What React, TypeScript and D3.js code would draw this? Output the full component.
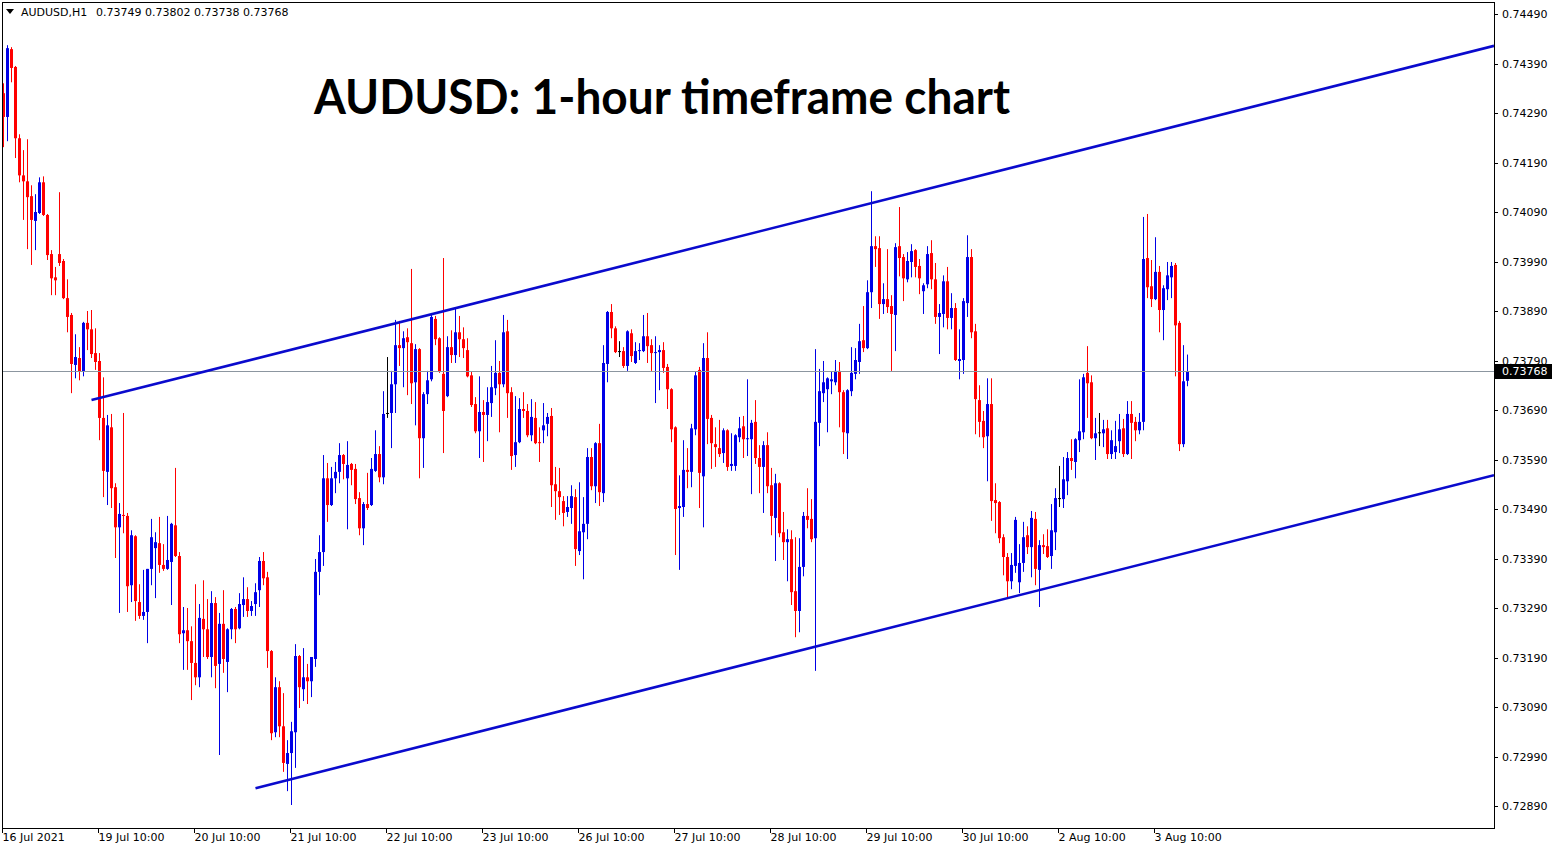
import React from 'react';
import * as d3 from 'd3';

const W = 1558;
const H = 850;

const opens = [0.74330,0.74282,0.74419,0.74383,0.74239,0.74164,0.74152,0.74122,0.74072,0.74088,
0.74150,0.74084,0.74005,0.73958,0.74005,0.73991,0.73916,0.73882,0.73781,0.73795,
0.73767,0.73866,0.73853,0.73805,0.73789,0.73674,0.73565,0.73655,0.73534,0.73453,
0.73478,0.73476,0.73336,0.73435,0.73302,0.73274,0.73282,0.73369,0.73411,0.73421,
0.73377,0.73369,0.73383,0.73457,0.73395,0.73239,0.73245,0.73223,0.73179,0.73150,
0.73268,0.73247,0.73191,0.73300,0.73177,0.73258,0.73181,0.73247,0.73288,0.73249,
0.73296,0.73308,0.73284,0.73298,0.73326,0.73385,0.73352,0.73203,0.73039,0.73130,
0.73051,0.72975,0.72997,0.73039,0.73193,0.73126,0.73150,0.73142,0.73187,0.73363,
0.73403,0.73552,0.73498,0.73552,0.73565,0.73599,0.73552,0.73581,0.73571,0.73512,
0.73451,0.73500,0.73498,0.73567,0.73601,0.73554,0.73684,0.73684,0.73742,0.73821,
0.73815,0.73837,0.73825,0.73746,0.73813,0.73633,0.73722,0.73752,0.73874,0.73835,
0.73763,0.73718,0.73817,0.73801,0.73847,0.73833,0.73811,0.73760,0.73702,0.73647,
0.73686,0.73680,0.73704,0.73734,0.73765,0.73742,0.73849,0.73726,0.73599,0.73625,
0.73692,0.73688,0.73639,0.73674,0.73625,0.73649,0.73662,0.73678,0.73540,0.73526,
0.73506,0.73484,0.73492,0.73514,0.73405,0.73443,0.73460,0.73595,0.73536,0.73623,
0.73522,0.73783,0.73888,0.73855,0.73809,0.73809,0.73779,0.73845,0.73785,0.73809,
0.73809,0.73839,0.73821,0.73805,0.73807,0.73811,0.73777,0.73732,0.73655,0.73492,
0.73494,0.73569,0.73565,0.73651,0.73771,0.73556,0.73795,0.73674,0.73621,0.73613,
0.73603,0.73649,0.73577,0.73577,0.73635,0.73657,0.73631,0.73631,0.73666,0.73593,
0.73575,0.73619,0.73538,0.73472,0.73542,0.73443,0.73423,0.73429,0.73324,0.73284,
0.73373,0.73476,0.73470,0.73431,0.73664,0.73724,0.73732,0.73748,0.73746,0.73769,
0.73726,0.73643,0.73728,0.73763,0.73787,0.73831,0.73815,0.73928,0.74021,0.74017,
0.73904,0.73914,0.73900,0.73882,0.74021,0.73999,0.73954,0.73989,0.74013,0.73981,
0.73930,0.73944,0.74007,0.73954,0.73878,0.73884,0.73950,0.73876,0.73896,0.73789,
0.73791,0.73906,0.73999,0.73849,0.73710,0.73668,0.73637,0.73702,0.73508,0.73504,
0.73433,0.73393,0.73344,0.73375,0.73342,0.73381,0.73437,0.73413,0.73470,0.73367,
0.73417,0.73415,0.73395,0.73443,0.73512,0.73510,0.73546,0.73593,0.73585,0.73629,
0.73645,0.73765,0.73746,0.73633,0.73645,0.73643,0.73653,0.73601,0.73605,0.73627,
0.73653,0.73601,0.73682,0.73666,0.73649,0.73666,0.73997,0.73940,0.73914,0.73969,
0.73892,0.73934,0.73958,0.73983,0.73866,0.73621,0.73749];

const highs = [0.74350,0.74427,0.74423,0.74385,0.74247,0.74215,0.74237,0.74144,0.74126,0.74160,
0.74162,0.74086,0.74013,0.73979,0.74130,0.73995,0.73954,0.73886,0.73843,0.73817,
0.73868,0.73890,0.73892,0.73855,0.73805,0.73756,0.73680,0.73682,0.73542,0.73502,
0.73684,0.73482,0.73447,0.73437,0.73338,0.73367,0.73369,0.73470,0.73443,0.73474,
0.73419,0.73476,0.73462,0.73573,0.73403,0.73292,0.73290,0.73253,0.73338,0.73298,
0.73346,0.73308,0.73324,0.73312,0.73280,0.73326,0.73249,0.73290,0.73292,0.73320,
0.73352,0.73332,0.73304,0.73340,0.73393,0.73403,0.73363,0.73205,0.73150,0.73142,
0.73118,0.73023,0.73060,0.73217,0.73195,0.73209,0.73177,0.73191,0.73389,0.73437,
0.73599,0.73583,0.73575,0.73585,0.73623,0.73601,0.73627,0.73583,0.73581,0.73524,
0.73504,0.73563,0.73593,0.73649,0.73617,0.73728,0.73797,0.73769,0.73872,0.73870,
0.73849,0.73855,0.73975,0.73823,0.73815,0.73726,0.73769,0.73886,0.73880,0.73837,
0.73997,0.73839,0.73851,0.73894,0.73880,0.73857,0.73835,0.73767,0.73716,0.73758,
0.73710,0.73736,0.73779,0.73831,0.73789,0.73882,0.73872,0.73736,0.73718,0.73714,
0.73726,0.73702,0.73712,0.73706,0.73655,0.73704,0.73684,0.73694,0.73575,0.73573,
0.73516,0.73516,0.73538,0.73530,0.73544,0.73514,0.73613,0.73613,0.73625,0.73662,
0.73821,0.73890,0.73904,0.73859,0.73829,0.73817,0.73851,0.73853,0.73827,0.73825,
0.73882,0.73886,0.73833,0.73839,0.73821,0.73827,0.73783,0.73734,0.73657,0.73558,
0.73629,0.73613,0.73662,0.73767,0.73777,0.73825,0.73847,0.73680,0.73655,0.73670,
0.73653,0.73651,0.73643,0.73641,0.73676,0.73678,0.73752,0.73670,0.73710,0.73619,
0.73627,0.73645,0.73573,0.73561,0.73544,0.73484,0.73449,0.73447,0.73433,0.73431,
0.73484,0.73532,0.73510,0.73813,0.73773,0.73789,0.73756,0.73767,0.73791,0.73787,
0.73730,0.73732,0.73817,0.73815,0.73864,0.73900,0.73952,0.74132,0.74041,0.74041,
0.73946,0.74015,0.73922,0.74027,0.74100,0.74005,0.74009,0.74025,0.74015,0.73995,
0.73946,0.74021,0.74033,0.73987,0.73904,0.73962,0.73979,0.73926,0.73906,0.73853,
0.73916,0.74043,0.74015,0.73864,0.73740,0.73688,0.73754,0.73754,0.73542,0.73506,
0.73439,0.73401,0.73401,0.73474,0.73419,0.73464,0.73455,0.73486,0.73484,0.73427,
0.73439,0.73449,0.73500,0.73532,0.73577,0.73595,0.73605,0.73631,0.73633,0.73752,
0.73763,0.73819,0.73760,0.73674,0.73684,0.73670,0.73670,0.73649,0.73668,0.73682,
0.73672,0.73708,0.73708,0.73676,0.73684,0.74080,0.74086,0.73993,0.74039,0.73981,
0.73942,0.73989,0.73989,0.73987,0.73870,0.73821,0.73802];

const lows = [0.74221,0.74233,0.74352,0.74199,0.74150,0.74074,0.74015,0.73983,0.74013,0.74086,
0.74082,0.73993,0.73922,0.73922,0.73981,0.73914,0.73847,0.73724,0.73754,0.73750,
0.73758,0.73811,0.73795,0.73771,0.73629,0.73514,0.73498,0.73492,0.73391,0.73280,
0.73441,0.73282,0.73302,0.73264,0.73268,0.73266,0.73219,0.73336,0.73310,0.73361,
0.73365,0.73367,0.73296,0.73393,0.73219,0.73165,0.73165,0.73104,0.73134,0.73130,
0.73191,0.73187,0.73150,0.73128,0.72993,0.73159,0.73120,0.73227,0.73219,0.73247,
0.73272,0.73272,0.73274,0.73274,0.73292,0.73336,0.73169,0.73023,0.73029,0.73029,
0.72959,0.72920,0.72892,0.72967,0.73088,0.73102,0.73096,0.73110,0.73171,0.73316,
0.73375,0.73464,0.73496,0.73522,0.73542,0.73550,0.73449,0.73538,0.73500,0.73437,
0.73417,0.73488,0.73496,0.73565,0.73544,0.73540,0.73674,0.73613,0.73684,0.73779,
0.73736,0.73720,0.73702,0.73659,0.73552,0.73573,0.73702,0.73748,0.73821,0.73765,
0.73603,0.73716,0.73785,0.73785,0.73797,0.73795,0.73756,0.73696,0.73643,0.73593,
0.73585,0.73627,0.73676,0.73720,0.73645,0.73736,0.73674,0.73569,0.73575,0.73623,
0.73674,0.73635,0.73627,0.73621,0.73585,0.73623,0.73637,0.73494,0.73468,0.73478,
0.73455,0.73474,0.73460,0.73375,0.73397,0.73348,0.73429,0.73528,0.73502,0.73496,
0.73504,0.73746,0.73835,0.73805,0.73797,0.73775,0.73769,0.73787,0.73783,0.73791,
0.73807,0.73785,0.73769,0.73704,0.73730,0.73765,0.73692,0.73625,0.73397,0.73367,
0.73474,0.73532,0.73534,0.73639,0.73492,0.73453,0.73621,0.73571,0.73575,0.73595,
0.73583,0.73567,0.73567,0.73567,0.73625,0.73593,0.73597,0.73520,0.73581,0.73522,
0.73482,0.73522,0.73437,0.73385,0.73433,0.73387,0.73344,0.73296,0.73231,0.73241,
0.73354,0.73451,0.73423,0.73163,0.73617,0.73706,0.73645,0.73722,0.73740,0.73655,
0.73601,0.73591,0.73718,0.73752,0.73763,0.73807,0.73813,0.73896,0.73979,0.73874,
0.73884,0.73886,0.73769,0.73809,0.73960,0.73910,0.73948,0.73958,0.73958,0.73924,
0.73884,0.73936,0.73934,0.73864,0.73803,0.73857,0.73853,0.73853,0.73789,0.73752,
0.73763,0.73878,0.73835,0.73641,0.73635,0.73613,0.73546,0.73466,0.73441,0.73421,
0.73356,0.73312,0.73328,0.73361,0.73320,0.73363,0.73399,0.73352,0.73336,0.73292,
0.73399,0.73391,0.73369,0.73407,0.73494,0.73492,0.73518,0.73569,0.73552,0.73605,
0.73631,0.73674,0.73631,0.73589,0.73617,0.73615,0.73591,0.73591,0.73591,0.73603,
0.73595,0.73599,0.73591,0.73627,0.73641,0.73649,0.73916,0.73898,0.73912,0.73847,
0.73831,0.73912,0.73916,0.73758,0.73607,0.73615,0.73738];

const closes = [0.74282,0.74421,0.74381,0.74239,0.74164,0.74152,0.74120,0.74074,0.74090,0.74150,
0.74084,0.74003,0.73956,0.73952,0.73987,0.73916,0.73878,0.73783,0.73797,0.73767,
0.73866,0.73853,0.73803,0.73787,0.73674,0.73567,0.73659,0.73532,0.73453,0.73480,
0.73476,0.73334,0.73437,0.73304,0.73274,0.73282,0.73369,0.73433,0.73423,0.73377,
0.73369,0.73387,0.73460,0.73395,0.73237,0.73245,0.73223,0.73179,0.73150,0.73270,
0.73247,0.73191,0.73300,0.73173,0.73258,0.73187,0.73247,0.73288,0.73247,0.73298,
0.73308,0.73284,0.73294,0.73322,0.73385,0.73350,0.73203,0.73037,0.73130,0.73051,
0.72977,0.72997,0.73041,0.73193,0.73130,0.73150,0.73142,0.73191,0.73363,0.73403,
0.73552,0.73498,0.73552,0.73565,0.73599,0.73581,0.73579,0.73569,0.73510,0.73451,
0.73500,0.73492,0.73571,0.73601,0.73554,0.73682,0.73684,0.73742,0.73821,0.73815,
0.73835,0.73827,0.73744,0.73813,0.73633,0.73722,0.73750,0.73878,0.73833,0.73767,
0.73688,0.73817,0.73801,0.73847,0.73833,0.73815,0.73758,0.73700,0.73647,0.73686,
0.73680,0.73706,0.73736,0.73765,0.73742,0.73847,0.73724,0.73597,0.73625,0.73692,
0.73688,0.73639,0.73676,0.73623,0.73623,0.73659,0.73676,0.73538,0.73526,0.73514,
0.73482,0.73494,0.73516,0.73409,0.73445,0.73460,0.73595,0.73536,0.73623,0.73524,
0.73785,0.73888,0.73855,0.73807,0.73809,0.73779,0.73849,0.73799,0.73809,0.73811,
0.73839,0.73819,0.73805,0.73807,0.73811,0.73775,0.73732,0.73651,0.73490,0.73496,
0.73569,0.73565,0.73653,0.73760,0.73563,0.73795,0.73672,0.73623,0.73615,0.73601,
0.73649,0.73575,0.73581,0.73639,0.73653,0.73631,0.73633,0.73664,0.73593,0.73575,
0.73619,0.73536,0.73476,0.73542,0.73441,0.73423,0.73429,0.73322,0.73284,0.73373,
0.73476,0.73468,0.73429,0.73666,0.73728,0.73746,0.73754,0.73752,0.73769,0.73726,
0.73645,0.73730,0.73765,0.73791,0.73829,0.73815,0.73928,0.74021,0.74015,0.73904,
0.73914,0.73898,0.73884,0.74019,0.73997,0.73956,0.73991,0.74011,0.73979,0.73956,
0.73942,0.74005,0.73954,0.73878,0.73886,0.73950,0.73876,0.73896,0.73791,0.73793,
0.73910,0.73999,0.73847,0.73712,0.73666,0.73635,0.73702,0.73506,0.73502,0.73431,
0.73393,0.73344,0.73377,0.73468,0.73381,0.73433,0.73413,0.73472,0.73369,0.73417,
0.73413,0.73393,0.73447,0.73512,0.73512,0.73550,0.73593,0.73587,0.73631,0.73647,
0.73756,0.73744,0.73633,0.73643,0.73645,0.73651,0.73601,0.73629,0.73617,0.73651,
0.73601,0.73682,0.73664,0.73649,0.73666,0.73995,0.73938,0.73914,0.73969,0.73892,
0.73936,0.73962,0.73981,0.73861,0.73621,0.73748,0.73768];

const priceTicks = [0.74490,0.74390,0.74290,0.74190,0.74090,0.73990,0.73890,0.73790,0.73690,0.73590,0.73490,0.73390,0.73290,0.73190,0.73090,0.72990,0.72890];
const timeLabels = ['16 Jul 2021','19 Jul 10:00','20 Jul 10:00','21 Jul 10:00','22 Jul 10:00','23 Jul 10:00','26 Jul 10:00','27 Jul 10:00','28 Jul 10:00','29 Jul 10:00','30 Jul 10:00','2 Aug 10:00','3 Aug 10:00'];
const timeLabelBars = [0,24,48,72,96,120,144,168,192,216,240,264,288];

const upperChannel = [{ bar: 22, price: 0.73710 }, { bar: 216, price: 0.74106 }];
const lowerChannel = [{ bar: 63, price: 0.72926 }, { bar: 252, price: 0.73312 }];

const symbolLabel = 'AUDUSD,H1';
const lastPrice = 0.73768;
const title = 'AUDUSD: 1-hour timeframe chart';

const PLOT_L = 2;
const PLOT_R = 1494;
const PLOT_T = 2;
const PLOT_B = 828;

const BLUE = '#0000E6';
const RED = '#FF0000';
const LINE_BLUE = '#0A0ACD';
const AXIS_FONT = 'DejaVu Sans, Verdana, sans-serif';

export default function App() {
  const n = opens.length;
  const x = d3.scaleLinear().domain([0, n - 1]).range([3.5, 3.5 + 4 * (n - 1)]);
  const y = d3.scaleLinear().domain([0.72890, 0.74490]).range([806, 14]);
  const fmt = d3.format('.5f');

  const ray = (pts: { bar: number; price: number }[]) => {
    const x1 = x(pts[0].bar), y1 = y(pts[0].price);
    const x2 = x(pts[1].bar), y2 = y(pts[1].price);
    const slope = (y2 - y1) / (x2 - x1);
    const xe = PLOT_R;
    const ye = y1 + slope * (xe - x1);
    return d3.line()([[x1, y1], [xe, ye]]) || '';
  };

  const ohlc = [opens[n - 1], highs[n - 1], lows[n - 1], closes[n - 1]].map(fmt).join(' ');

  return (
    <svg width={W} height={H} style={{ position: 'absolute', left: 0, top: 0, display: 'block', background: '#fff' }}>
      <defs>
        <clipPath id="plot">
          <rect x={PLOT_L} y={PLOT_T} width={PLOT_R - PLOT_L} height={PLOT_B - PLOT_T} />
        </clipPath>
      </defs>
      <rect x={0} y={0} width={W} height={H} fill="#fff" />
      <g clipPath="url(#plot)">
        {d3.range(n).map((i) => {
          const o = opens[i], c = closes[i];
          const col = c > o ? BLUE : c < o ? RED : '#000';
          const cx = Math.round(x(i) - 0.5) + 0.5;
          const top = y(Math.max(o, c));
          const bot = y(Math.min(o, c));
          return (
            <g key={i}>
              <line x1={cx} x2={cx} y1={y(highs[i])} y2={y(lows[i])} stroke={col} strokeWidth={1} />
              <rect x={cx - 1.5} y={top} width={3} height={Math.max(1, bot - top)} fill={col} />
            </g>
          );
        })}
        <line x1={PLOT_L} x2={PLOT_R} y1={Math.round(y(lastPrice)) + 0.5} y2={Math.round(y(lastPrice)) + 0.5} stroke="#8C96A0" strokeWidth={1} />
        <path d={ray(upperChannel)} stroke={LINE_BLUE} strokeWidth={2.6} fill="none" />
        <path d={ray(lowerChannel)} stroke={LINE_BLUE} strokeWidth={2.6} fill="none" />
      </g>
      <line x1={PLOT_L + 0.5} x2={PLOT_L + 0.5} y1={PLOT_T} y2={PLOT_B} stroke="#000" />
      <line x1={PLOT_R + 0.5} x2={PLOT_R + 0.5} y1={PLOT_T} y2={PLOT_B} stroke="#000" />
      <line x1={PLOT_L} x2={PLOT_R + 1} y1={PLOT_B + 0.5} y2={PLOT_B + 0.5} stroke="#000" />
      <line x1={PLOT_L} x2={PLOT_R + 1} y1={PLOT_T + 0.5} y2={PLOT_T + 0.5} stroke="#000" />

      <path d="M6,9 L14,9 L10,14 Z" fill="#000" />
      <text x={21} y={16} fontFamily={AXIS_FONT} fontSize={11} fill="#000">
        <tspan>{symbolLabel}</tspan>
        <tspan x={96}>{ohlc}</tspan>
      </text>

      <text x={314} y={114} fontFamily="Lato, sans-serif" fontWeight={700} fontSize={48} textLength={696} lengthAdjust="spacingAndGlyphs" fill="#000">{title}</text>

      {priceTicks.map((p) => (
        <g key={p}>
          <line x1={PLOT_R} x2={PLOT_R + 4} y1={Math.round(y(p)) + 0.5} y2={Math.round(y(p)) + 0.5} stroke="#000" />
          <text x={1502} y={y(p) + 4} fontFamily={AXIS_FONT} fontSize={11} fill="#000">{fmt(p)}</text>
        </g>
      ))}
      <rect x={1495} y={Math.round(y(lastPrice)) - 7} width={57} height={15} fill="#000" />
      <text x={1502} y={y(lastPrice) + 4} fontFamily={AXIS_FONT} fontSize={11} fill="#fff">{fmt(lastPrice)}</text>

      {timeLabels.map((t, k) => (
        <g key={t}>
          <line x1={Math.round(x(timeLabelBars[k])) - 1.5} x2={Math.round(x(timeLabelBars[k])) - 1.5} y1={PLOT_B} y2={PLOT_B + 5} stroke="#000" />
          <text x={x(timeLabelBars[k]) - 1} y={841} fontFamily={AXIS_FONT} fontSize={11} fill="#000">{t}</text>
        </g>
      ))}
    </svg>
  );
}
